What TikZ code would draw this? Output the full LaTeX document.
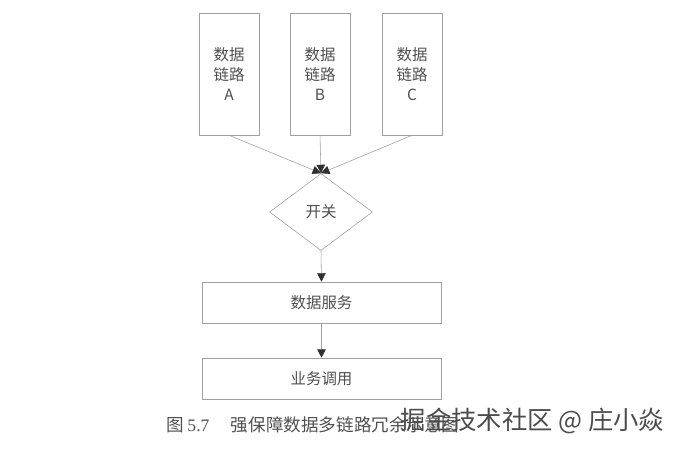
\documentclass[tikz,border=0pt]{standalone}
\usepackage{fontspec}
\setmainfont{Noto Sans CJK SC}
\newfontfamily\capfont{Noto Sans CJK SC}
\newfontfamily\numfont{Liberation Serif}
\usetikzlibrary{shapes.geometric,arrows.meta}

\definecolor{linegray}{HTML}{A0A0A0}
\definecolor{textgray}{HTML}{505050}
\definecolor{tipgray}{HTML}{303030}

\tikzset{
    linkbox/.style={draw=linegray, thin, text=textgray, align=center,
        minimum width=1.5cm, minimum height=3.05cm, inner sep=0pt,
        font=\fontsize{11}{14.2}\selectfont},
    switchbox/.style={diamond, draw=linegray, thin, text=textgray, aspect=1.34,
        minimum width=2.575cm, minimum height=1.925cm, inner sep=0pt,
        font=\fontsize{11}{14}\selectfont},
    svcbox/.style={draw=linegray, thin, text=textgray,
        minimum width=5.975cm, minimum height=1.025cm, inner sep=0pt,
        font=\fontsize{11}{14}\selectfont},
    flow/.style={draw=linegray, thin,
        -{Triangle[length=6pt, width=6pt, fill=tipgray, color=tipgray]}},
}

\begin{document}
\begin{tikzpicture}[x=0.025cm, y=-0.025cm]
    % --- 画布 ---
    \fill[white] (0,0) rectangle (688,448);
    \useasboundingbox (0,0) rectangle (688,448);

    % --- 三条数据链路 ---
    \node[linkbox] (linkA) at (229,74) {数据\\链路\\A};
    \node[linkbox] (linkB) at (320,74) {数据\\链路\\B};
    \node[linkbox] (linkC) at (412,74) {数据\\链路\\C};

    % --- 开关 ---
    \node[switchbox] (switch) at (321,212) {开关};

    % --- 数据服务 和 业务调用 ---
    \node[svcbox] (service) at (321.5,302.5) {数据服务};
    \node[svcbox] (call) at (321.5,378.5) {业务调用};

    % --- 连线 ---
    \draw[flow] (linkA.south) -- (switch.north);
    \draw[flow] (linkB.south) -- (switch.north);
    \draw[flow] (linkC.south) -- (switch.north);
    \draw[flow] (switch.south) -- (service.north);
    \draw[flow] (service.south) -- (call.north);

    % --- 图题 ---
    \node[text=textgray, anchor=west, font=\fontsize{12.5}{14}\selectfont] (caption) at (162,425)
        {\capfont 图\,{\numfont 5.7}\quad\ 强保障数据多链路冗余示意图};
    % 水印
    \node[text=black!70, anchor=west, font=\fontsize{18}{20}\selectfont] (wmark) at (396,421)
        {掘金技术社区 @ 庄小焱};
\end{tikzpicture}
\end{document}
